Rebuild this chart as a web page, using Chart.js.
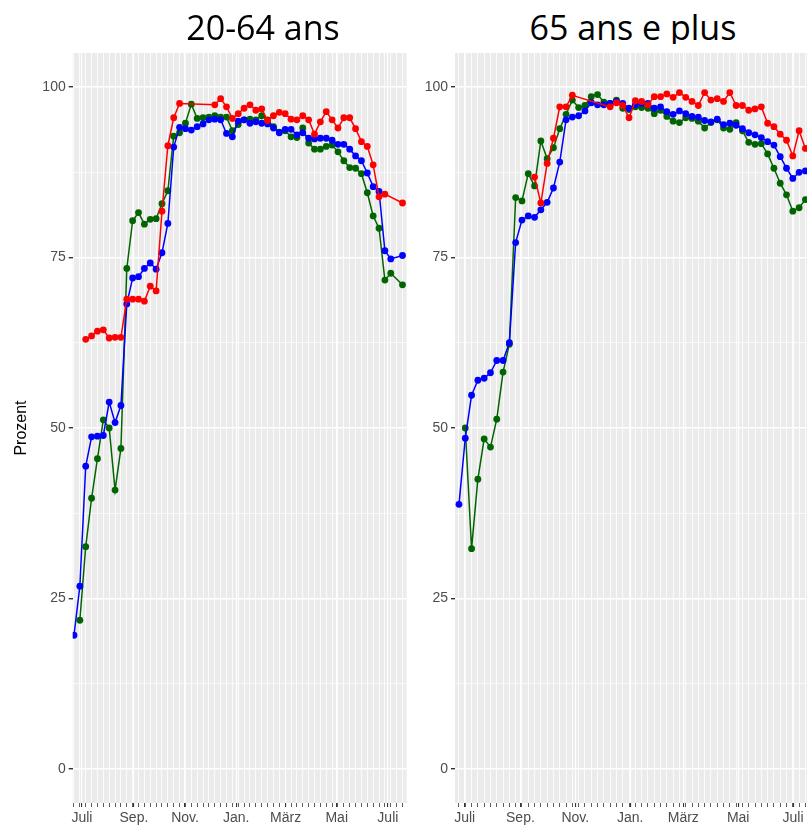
<!DOCTYPE html>
<html>
<head>
<meta charset="utf-8">
<script src="https://cdn.jsdelivr.net/npm/chart.js@4.4.1/dist/chart.umd.min.js"></script>
<style>
  html, body { margin: 0; padding: 0; background: #fff; }
  body { width: 807px; height: 826px; overflow: hidden; position: relative; }
  .title { position: absolute; top: 0; font-family: 'Open Sans', sans-serif; font-size: 34px; line-height: 54px; color: #000; white-space: nowrap; transform: translateX(-50%); }
  #t1 { left: 263px; z-index: 2; }
  #t2 { left: 633px; z-index: 0; }
  .wrap { position: absolute; top: 0; height: 826px; z-index: 1; }
  #w1 { left: 0; width: 410px; }
  #w2 { left: 412px; width: 405px; }
</style>
</head>
<body>
<div class="title" id="t1">20-64 ans</div>
<div class="title" id="t2">65 ans e plus</div>
<div class="wrap" id="w1"><canvas id="c1"></canvas></div>
<div class="wrap" id="w2"><canvas id="c2"></canvas></div>
<script>
// Achse: Monate (Tage seit 1. Juli), y-Ticks
const monthNames = ['Juli', 'Sep.', 'Nov.', 'Jan.', 'März', 'Mai', 'Juli'];
const monthDays = [0, 62, 123, 184, 243, 304, 365];
const yTicks = [0, 12.5, 25, 37.5, 50, 62.5, 75, 87.5, 100];
const yLabels = ['0', '', '25', '', '50', '', '75', '', '100'];

// 20-64 ans, eine Zahl pro Woche
const leftBlue = [19.6, 26.8, 44.4, 48.7, 48.8, 48.9, 53.8, 50.8, 53.3, 68.2,
  72.0, 72.2, 73.4, 74.2, 73.3, 75.7, 80.0, 91.2, 94.1, 93.9,
  93.7, 94.2, 94.6, 95.2, 95.3, 95.2, 93.2, 92.7, 95.0, 95.2,
  94.7, 94.9, 94.7, 94.6, 94.0, 93.3, 93.8, 93.8, 93.0, 93.3,
  92.5, 92.4, 92.5, 92.5, 92.2, 91.6, 91.6, 90.9, 89.9, 89.2,
  87.4, 85.4, 84.7, 76.0, 74.8, null, 75.3];
const leftGreen = [null, 21.8, 32.6, 39.7, 45.5, 51.2, 50.0, 40.9, 47.0, 73.4,
  80.4, 81.6, 79.9, 80.6, 80.7, 82.9, 84.8, 92.8, 93.3, 94.7,
  97.5, 95.4, 95.5, 95.6, 95.8, 95.6, 95.6, 93.6, 94.5, 95.2,
  95.3, 95.2, 95.8, 95.2, 94.2, 93.4, 93.6, 92.7, 92.6, 94.0,
  91.8, 90.9, 90.9, 91.3, 91.5, 90.5, 89.2, 88.2, 88.1, 87.3,
  84.5, 81.1, 79.3, 71.7, 72.7, null, 71.0];
const leftRed = [null, null, 63.0, 63.5, 64.2, 64.4, 63.2, 63.3, 63.3, 68.9,
  68.9, 68.9, 68.6, 70.8, 70.1, 81.8, 91.4, 95.5, 97.6, null,
  null, null, null, null, 97.4, 98.3, 97.1, 95.4, 96.1, 96.9,
  97.4, 96.6, 96.8, 95.1, 95.8, 96.3, 96.1, 95.3, 95.2, 95.8,
  95.2, 93.1, 94.9, 96.4, 95.2, 94.0, 95.5, 95.5, 93.9, 92.0,
  91.3, 88.6, 83.9, 84.3, null, null, 83.0];

// 65 ans e plus
const rightBlue = [38.8, 48.5, 54.8, 57.0, 57.3, 58.1, 59.9, 59.9, 62.5, 77.2,
  80.5, 81.1, 80.9, 82.0, 83.1, 85.2, 89.0, 95.2, 95.6, 95.8,
  96.5, 97.7, 97.4, 97.4, 97.6, 97.9, 97.6, 96.9, 97.4, 97.6,
  97.6, 96.9, 97.1, 96.4, 96.0, 96.5, 96.1, 95.7, 95.6, 95.1,
  94.9, 95.3, 94.5, 94.7, 94.4, 93.9, 93.3, 93.0, 92.6, 92.0,
  91.5, 89.8, 88.1, 86.6, 87.5, 87.7];
const rightGreen = [null, 50.0, 32.3, 42.5, 48.4, 47.2, 51.3, 58.2, 62.3, 83.8,
  83.3, 87.3, 85.5, 92.1, 89.5, 91.1, 93.9, 96.0, 98.1, 97.0,
  97.3, 98.6, 98.9, 97.8, 97.6, 98.1, 96.9, 96.7, 97.1, 97.0,
  96.9, 96.1, 96.6, 95.7, 95.0, 94.8, 95.5, 95.4, 95.0, 94.0,
  94.8, 95.2, 94.0, 93.8, 94.8, 93.6, 91.9, 91.6, 91.7, 90.2,
  88.1, 85.9, 84.2, 81.8, 82.3, 83.5];
const rightRed = [null, null, null, null, null, null, null, null, null, null,
  null, null, 86.8, 83.0, 88.8, 92.5, 97.1, 97.1, 98.8, null,
  null, null, null, null, 97.1, 97.7, 97.3, 95.5, 98.0, 97.9,
  97.4, 98.6, 98.6, 99.0, 98.5, 99.2, 98.5, 97.9, 97.3, 99.2,
  98.1, 98.3, 97.9, 99.2, 97.3, 97.3, 96.6, 96.8, 97.1, 94.7,
  94.2, 93.1, 92.2, 89.9, 93.6, 91.0];

Chart.defaults.font.family = "'Liberation Sans', Arial, sans-serif";
Chart.defaults.color = '#4d4d4d';

const panelBg = {
  id: 'panelBg',
  beforeDraw(chart, args, o) {
    const { ctx, chartArea: a } = chart;
    ctx.save();
    ctx.fillStyle = '#fff';
    ctx.fillRect(0, o.whiteTop || 0, chart.width, chart.height);
    ctx.fillStyle = '#EBEBEB';
    ctx.fillRect(a.left, a.top, a.right - a.left, a.bottom - a.top);
    ctx.restore();
  }
};

function series(vals, color, order) {
  return {
    data: vals.map((v, i) => ({ x: i, y: v })),
    borderColor: color,
    backgroundColor: color,
    borderWidth: 1.5,
    pointRadius: 3.4,
    pointHoverRadius: 3.4,
    pointBorderWidth: 0,
    spanGaps: true,
    order: order
  };
}

function makePanel(id, p) {
  const nWeeks = p.blue.length;
  new Chart(document.getElementById(id), {
    type: 'line',
    data: {
      datasets: [
        series(p.red, '#ff0000', 1),
        series(p.blue, '#0000ff', 2),
        series(p.green, '#006400', 3)
      ]
    },
    options: {
      responsive: true,
      maintainAspectRatio: false,
      animation: false,
      layout: { padding: { top: 53, right: p.padRight, left: 0, bottom: 0 } },
      plugins: {
        legend: { display: false },
        tooltip: { enabled: false },
        panelBg: { whiteTop: p.whiteTop }
      },
      scales: {
        x: {
          type: 'linear',
          min: p.xMin,
          max: p.xMax,
          afterBuildTicks: s => {
            const t = [];
            for (let i = 0; i < nWeeks; i++) t.push({ value: i });
            monthDays.forEach((d, i) => t.push({ value: p.julyWeek + d / 7, mname: monthNames[i] }));
            t.sort((a, b) => a.value - b.value);
            s.ticks = t;
          },
          afterFit: s => { s.height = 23; },
          ticks: {
            autoSkip: false,
            maxRotation: 0,
            minRotation: 0,
            padding: 3,
            font: { size: 14 },
            callback: (v, i, ticks) => ticks[i].mname || ''
          },
          grid: {
            color: '#ffffff',
            lineWidth: c => (c.tick && c.tick.mname) ? 1.1 : 0.8,
            tickColor: '#333333',
            tickLength: 4
          },
          border: { display: false }
        },
        y: {
          min: -5,
          max: 105,
          afterBuildTicks: s => { s.ticks = yTicks.map(v => ({ value: v })); },
          afterFit: s => { s.width = p.yWidth; },
          ticks: {
            autoSkip: false,
            padding: 3,
            font: { size: 14 },
            callback: (v, i) => yLabels[i]
          },
          grid: {
            color: '#ffffff',
            lineWidth: c => (c.tick && c.tick.value % 25 === 0) ? 1.4 : 0.7,
            tickColor: c => (c.tick && c.tick.value % 25 === 0) ? '#333333' : 'rgba(0,0,0,0)',
            tickLength: 4
          },
          border: { display: false },
          title: {
            display: p.showTitle,
            text: 'Prozent',
            color: '#000',
            font: { size: 16 },
            padding: { top: 12, bottom: 0 }
          }
        }
      }
    },
    plugins: [panelBg]
  });
}

makePanel('c1', {
  blue: leftBlue, green: leftGreen, red: leftRed,
  julyWeek: 1.36, xMin: -0.22, xMax: 56.7,
  yWidth: 72.7, padRight: 3.3, showTitle: true, whiteTop: 0
});

makePanel('c2', {
  blue: rightBlue, green: rightGreen, red: rightRed,
  julyWeek: 0.9, xMin: -0.63, xMax: 56.3,
  yWidth: 43, padRight: 3.3, showTitle: false, whiteTop: 44
});
</script>
</body>
</html>
